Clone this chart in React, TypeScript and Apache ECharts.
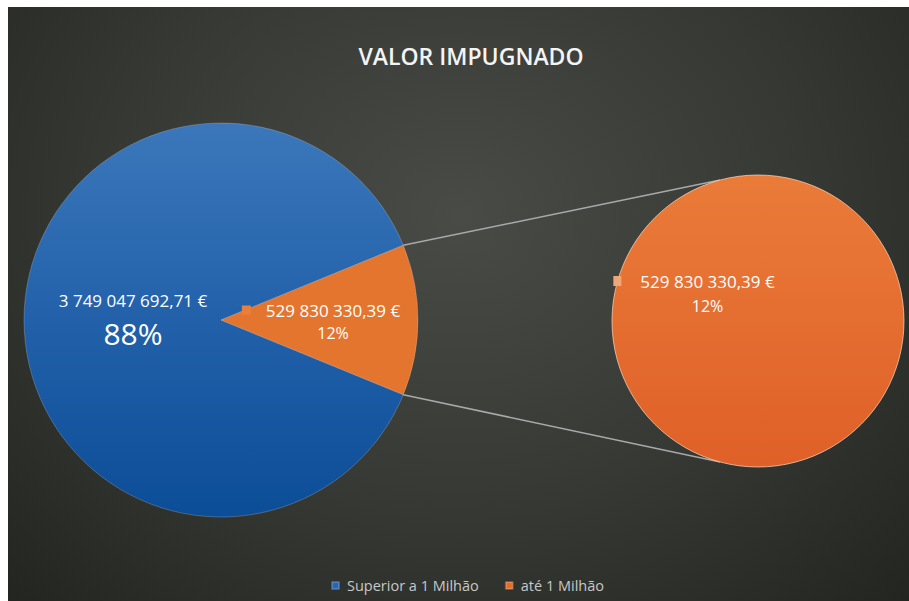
import React, { useEffect, useRef } from 'react';
import * as echarts from 'echarts';

const chartTitle = 'VALOR IMPUGNADO';
const categories = ['Superior a 1 Milhão', 'até 1 Milhão'];
const values = [3749047692.71, 529830330.39];
const valueLabels = ['3 749 047 692,71 €', '529 830 330,39 €'];
const percentLabels = ['88%', '12%'];

export default function App() {
  const ref = useRef<HTMLDivElement>(null);

  useEffect(() => {
    if (!ref.current) return;
    const chart = echarts.init(ref.current, null, { renderer: 'svg' });
    const font = '"Open Sans", "Noto Sans", sans-serif';
    const total = values[0] + values[1];
    const halfAngle = (values[1] / total) * 180;
    const rad = (d: number) => (d * Math.PI) / 180;

    const mainC = [213, 313];
    const mainR = 197;
    const subC = [750, 314];
    const subR = 146;
    const connAngle = 105;

    const wedgeTop = [mainC[0] + mainR * Math.cos(rad(halfAngle)), mainC[1] - mainR * Math.sin(rad(halfAngle))];
    const wedgeBot = [wedgeTop[0], mainC[1] + mainR * Math.sin(rad(halfAngle))];
    const subTop = [subC[0] + subR * Math.cos(rad(connAngle)), subC[1] - subR * Math.sin(rad(connAngle))];
    const subBot = [subTop[0], subC[1] + subR * Math.sin(rad(connAngle))];

    const blue = new echarts.graphic.LinearGradient(0, 0, 0, 1, [
      { offset: 0, color: '#3b77ba' },
      { offset: 0.5, color: '#2261aa' },
      { offset: 1, color: '#0c4d97' },
    ]);
    const orangeSub = new echarts.graphic.LinearGradient(0, 0, 0, 1, [
      { offset: 0, color: '#ea7b39' },
      { offset: 1, color: '#df6028' },
    ]);

    const lineStyle = { stroke: '#a9a9a9', lineWidth: 1.5 };

    chart.setOption({
      animation: false,
      title: {
        text: chartTitle,
        left: 458,
        top: 32,
        textAlign: 'center',
        textStyle: { color: '#f4f4f4', fontFamily: font, fontSize: 23, fontWeight: 600 },
      },
      legend: {
        left: 318,
        top: 566,
        itemWidth: 7,
        itemHeight: 7,
        itemGap: 26,
        icon: 'rect',
        selectedMode: false,
        textStyle: { color: '#c8c8c8', fontFamily: font, fontSize: 14.5, padding: [0, 0, 0, 3] },
        data: [
          { name: categories[0], itemStyle: { color: '#2a63ae' } },
          { name: categories[1], itemStyle: { color: '#e46c2b' } },
        ],
      },
      graphic: [
        { type: 'line', z: 1, shape: { x1: wedgeTop[0], y1: wedgeTop[1], x2: subTop[0], y2: subTop[1] }, style: lineStyle },
        { type: 'line', z: 1, shape: { x1: wedgeBot[0], y1: wedgeBot[1], x2: subBot[0], y2: subBot[1] }, style: lineStyle },
      ],
      series: [
        {
          type: 'pie',
          center: mainC,
          radius: mainR,
          startAngle: 360 - halfAngle,
          clockwise: true,
          avoidLabelOverlap: false,
          emphasis: { disabled: true },
          itemStyle: { borderColor: 'rgba(255,255,255,0.2)', borderWidth: 1 },
          labelLine: { show: false },
          label: { show: true, position: 'inside', fontFamily: font, color: '#ffffff' },
          labelLayout: (p: any) => (p.dataIndex === 0 ? { dx: 13.5, dy: 0 } : { dx: -1.5, dy: 1.5 }),
          data: [
            {
              name: categories[0],
              value: values[0],
              itemStyle: { color: blue },
              label: {
                formatter: `{v|${valueLabels[0]}}\n{p|${percentLabels[0]}}`,
                rich: {
                  v: { fontFamily: font, fontSize: 17, lineHeight: 26, color: '#ffffff' },
                  p: { fontFamily: font, fontSize: 30, lineHeight: 40, color: '#ffffff' },
                },
              },
            },
            {
              name: categories[1],
              value: values[1],
              itemStyle: { color: '#e3752f' },
              label: {
                formatter: `{k|}{g|}{v|${valueLabels[1]}}\n{e|}{p|${percentLabels[1]}}`,
                rich: {
                  k: { width: 9, height: 9, backgroundColor: '#e97f3a' },
                  g: { width: 15 },
                  e: { width: 24 },
                  v: { fontFamily: font, fontSize: 17, lineHeight: 23, color: '#ffffff' },
                  p: { fontFamily: font, fontSize: 16, lineHeight: 23, color: '#ffffff' },
                },
              },
            },
          ],
        },
        {
          type: 'pie',
          center: subC,
          radius: subR,
          avoidLabelOverlap: false,
          emphasis: { disabled: true },
          itemStyle: { borderColor: 'rgba(255,215,185,0.7)', borderWidth: 1 },
          labelLine: { show: false },
          label: {
            show: true,
            position: 'center',
            formatter: `{k|}{g|}{v|${valueLabels[1]}}\n{e|}{p|${percentLabels[1]}}`,
            rich: {
              k: { width: 8, height: 10, backgroundColor: '#f2a678' },
              g: { width: 19 },
              e: { width: 27 },
              v: { fontFamily: font, fontSize: 17, lineHeight: 25, color: '#ffffff' },
              p: { fontFamily: font, fontSize: 16, lineHeight: 25, color: '#ffffff' },
            },
          },
          labelLayout: { dx: -64, dy: -27.5 },
          data: [{ name: categories[1], value: values[1], itemStyle: { color: orangeSub } }],
        },
      ],
    });

    return () => chart.dispose();
  }, []);

  return (
    <div
      ref={ref}
      style={{
        position: 'absolute',
        left: 8,
        top: 7,
        width: 901,
        height: 594,
        background: 'radial-gradient(ellipse at 50% 35%, #484b46 0%, #353833 55%, #232520 100%)',
      }}
    />
  );
}
